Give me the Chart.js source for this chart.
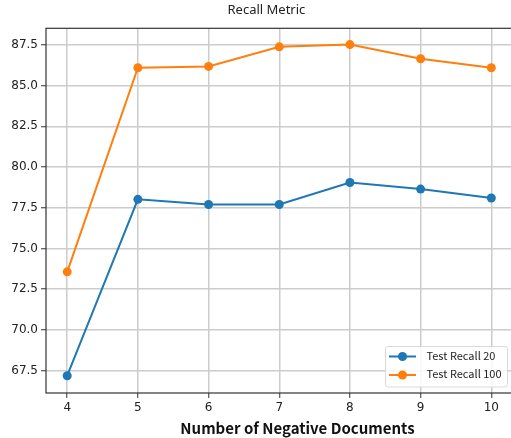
<!DOCTYPE html>
<html>
<head>
<meta charset="utf-8">
<script src="https://cdn.jsdelivr.net/npm/chart.js@4"></script>
<style>
  html, body { margin: 0; padding: 0; overflow: hidden; background: #fff; }
</style>
</head>
<body>
<canvas id="myChart" width="517" height="438"></canvas>
<script>
// data
const negDocs = [4, 5, 6, 7, 8, 9, 10];
const recall20 = [67.19, 78.02, 77.70, 77.70, 79.05, 78.65, 78.10];
const recall100 = [73.57, 86.10, 86.18, 87.38, 87.52, 86.65, 86.10];
const xTicks = [4, 5, 6, 7, 8, 9, 10];
const yTicks = [67.5, 70.0, 72.5, 75.0, 77.5, 80.0, 82.5, 85.0, 87.5];
const chartTitle = 'Recall Metric';
const xLabel = 'Number of Negative Documents';

const blue = '#1f77b4';
const orange = '#ff7f0e';
const gridColor = '#cccccc';
const spineColor = '#333333';

function toPoints(xs, ys) {
  return xs.map((x, i) => ({ x: x, y: ys[i] }));
}

// frame around the plot area like matplotlib spines, plus title and x label
// (both sit a bit right of the plot centre in the original)
const framePlugin = {
  id: 'frame',
  afterDraw(chart) {
    const ctx = chart.ctx;
    const a = chart.chartArea;
    ctx.save();
    ctx.strokeStyle = spineColor;
    ctx.lineWidth = 1.2;
    ctx.strokeRect(a.left, a.top, a.right - a.left, a.bottom - a.top);
    ctx.textAlign = 'center';
    ctx.textBaseline = 'middle';
    ctx.fillStyle = '#222';
    ctx.font = '13px "Noto Sans"';
    ctx.fillText(chartTitle, 266.4, 10.5);
    ctx.fillStyle = '#111';
    ctx.font = 'bold 15px "Noto Sans CJK JP"';
    ctx.fillText(xLabel, 297.5, 428);
    ctx.restore();
  }
};

// legend box in lower right of the plot
const legendPlugin = {
  id: 'boxLegend',
  afterDraw(chart) {
    const ctx = chart.ctx;
    const bx = 385.5, by = 346.5, bw = 122, bh = 40.5;
    ctx.save();
    ctx.fillStyle = 'rgba(255,255,255,0.85)';
    ctx.strokeStyle = '#d9d9d9';
    ctx.lineWidth = 1;
    ctx.beginPath();
    ctx.roundRect(bx, by, bw, bh, 2.5);
    ctx.fill();
    ctx.stroke();
    const rows = [356.5, 375];
    chart.data.datasets.forEach((ds, i) => {
      const y = rows[i];
      ctx.strokeStyle = ds.borderColor;
      ctx.lineWidth = 2;
      ctx.beginPath();
      ctx.moveTo(389, y);
      ctx.lineTo(416, y);
      ctx.stroke();
      ctx.fillStyle = ds.backgroundColor;
      ctx.beginPath();
      ctx.arc(402.5, y, 4.5, 0, Math.PI * 2);
      ctx.fill();
      ctx.fillStyle = '#222';
      ctx.font = '11px "Noto Sans CJK JP"';
      ctx.textBaseline = 'middle';
      ctx.textAlign = 'left';
      ctx.fillText(ds.label, 426.5, y - 1);
    });
    ctx.restore();
  }
};

const config = {
  type: 'line',
  data: {
    datasets: [{
      label: 'Test Recall 20',
      data: toPoints(negDocs, recall20),
      borderColor: blue,
      backgroundColor: blue,
      borderWidth: 2,
      pointRadius: 4.5,
      pointHoverRadius: 4.5,
      pointBorderWidth: 0,
      tension: 0
    }, {
      label: 'Test Recall 100',
      data: toPoints(negDocs, recall100),
      borderColor: orange,
      backgroundColor: orange,
      borderWidth: 2,
      pointRadius: 4.5,
      pointHoverRadius: 4.5,
      pointBorderWidth: 0,
      tension: 0
    }]
  },
  options: {
    responsive: false,
    animation: false,
    layout: { padding: { top: 28.3 } },
    plugins: {
      legend: { display: false },
      tooltip: { enabled: false },
      title: { display: false }
    },
    scales: {
      x: {
        type: 'linear',
        min: 3.7,
        max: 10.3,
        afterBuildTicks: (scale) => { scale.ticks = xTicks.map(v => ({ value: v })); },
        afterFit: (scale) => { scale.height = 45; },
        ticks: {
          color: '#222',
          font: { family: 'DejaVu Sans', size: 12 },
          padding: 3,
          maxRotation: 0,
          callback: (v) => String(v)
        },
        grid: {
          color: gridColor,
          lineWidth: 1.5,
          tickColor: spineColor,
          tickLength: 5,
          tickWidth: 1
        },
        border: { display: false },
        title: { display: false }
      },
      y: {
        min: 66.13,
        max: 88.52,
        afterBuildTicks: (scale) => { scale.ticks = yTicks.map(v => ({ value: v })); },
        afterFit: (scale) => { scale.width = 46; },
        ticks: {
          color: '#222',
          font: { family: 'DejaVu Sans', size: 12 },
          padding: 3,
          callback: (v) => v.toFixed(1)
        },
        grid: {
          color: gridColor,
          lineWidth: 1.5,
          tickColor: spineColor,
          tickLength: 5,
          tickWidth: 1
        },
        border: { display: false }
      }
    }
  },
  plugins: [framePlugin, legendPlugin]
};

var myChart = document.getElementById('myChart').getContext('2d');
var theChart = new Chart(myChart, config);
</script>
</body>
</html>
